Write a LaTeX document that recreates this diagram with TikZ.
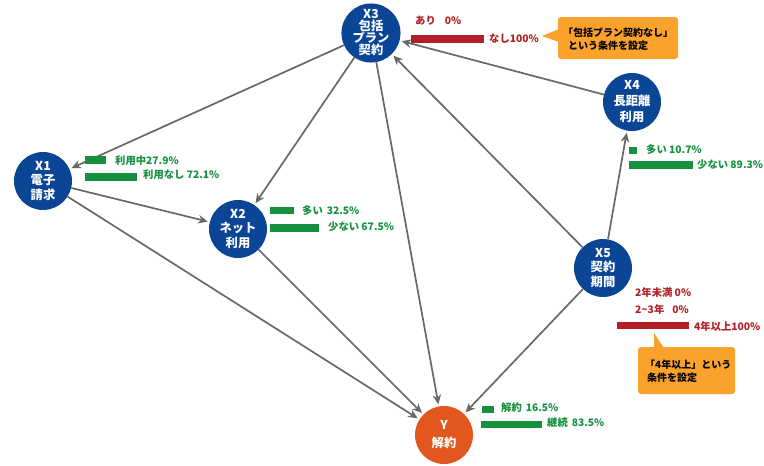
\documentclass[tikz,border=0pt]{standalone}
\usepackage{fontspec}
\setmainfont{Noto Sans CJK JP}
\usetikzlibrary{arrows.meta}
\definecolor{nblue}{HTML}{0B4596}
\definecolor{yorange}{HTML}{E2571E}
\definecolor{ggreen}{HTML}{15903F}
\definecolor{rred}{HTML}{B21F24}
\definecolor{corange}{HTML}{FAA22B}
\definecolor{agray}{HTML}{686868}
\begin{document}
\begin{tikzpicture}[x=1pt,y=-1pt,
  circ/.style={circle,fill=nblue,minimum size=58pt,inner sep=0pt,text=white,align=center},
  conn/.style={draw=agray,line width=1.7pt,-{Stealth[length=9.5pt,width=8.5pt]},shorten >=2pt},
  lbl/.style={anchor=west,inner sep=0pt,font=\bfseries\fontsize{10.3}{12}\selectfont},
  gl/.style={lbl,text=ggreen},
  rl/.style={lbl,text=rred},
  ctext/.style={anchor=west,inner sep=0pt,align=left,text=black,font=\bfseries\fontsize{10}{12.5}\selectfont}]
\useasboundingbox (0,0) rectangle (764,466);

% nodes
\node[circ,font=\bfseries\fontsize{12.3}{12}\selectfont] (x3) at (371,33) {X3\\包括\\プラン\\契約};
\node[circ,font=\bfseries\fontsize{12.3}{14.5}\selectfont] (x1) at (43,181) {X1\\電子\\請求};
\node[circ,font=\bfseries\fontsize{12.3}{14.5}\selectfont] (x2) at (238,229) {X2\\ネット\\利用};
\node[circ,font=\bfseries\fontsize{12.3}{16}\selectfont] (x4) at (632,102) {X4\\長距離\\利用};
\node[circ,font=\bfseries\fontsize{12.3}{14.5}\selectfont] (x5) at (603,268) {X5\\契約\\期間};
\node[circ,fill=yorange,font=\bfseries\fontsize{12.3}{18}\selectfont] (y) at (444,435) {Y\\解約};

% connectors
\draw[conn] (x3) -- (x1);
\draw[conn] (x1) -- (x2);
\draw[conn] (x3) -- (x2);
\draw[conn] (x1) -- (y);
\draw[conn] (x2) -- (y);
\draw[conn] (x3) -- (y);
\draw[conn] (x4) -- (x3);
\draw[conn] (x5) -- (x3);
\draw[conn] (x5) -- (x4);
\draw[conn] (x5) -- (y);

% X3 bars
\node[rl] (x3a) at (415,21) {あり\hspace{9pt}0\%};
\fill[rred] (411,35) rectangle (484,43);
\node[rl] (x3b) at (489,39) {なし100\%};
% callout 1
\fill[corange,rounded corners=3pt] (558,17) rectangle (678,59);
\fill[corange] (559,29) -- (542,36) -- (559,42) -- cycle;
\node[ctext] (c1) at (563,39) {「包括プラン契約なし」\\\hspace{5pt}という条件を設定};

% X1 bars
\fill[ggreen] (85,156) rectangle (106,164);
\node[gl] (x1a) at (115,161) {利用中27.9\%};
\fill[ggreen] (85,173) rectangle (137,181);
\node[gl] (x1b) at (143,175) {利用なし 72.1\%};

% X2 bars
\fill[ggreen] (270,207) rectangle (294,214);
\node[gl] (x2a) at (302,211) {多い\hspace{4pt}32.5\%};
\fill[ggreen] (270,224) rectangle (319,232);
\node[gl] (x2b) at (328,227) {少ない 67.5\%};

% X4 bars
\fill[ggreen] (629,147) rectangle (637,154);
\node[gl] (x4a) at (646,150) {多い 10.7\%};
\fill[ggreen] (629,161) rectangle (693,169);
\node[gl] (x4b) at (697,165) {少ない 89.3\%};

% X5 bars
\node[rl] (x5a) at (635,293) {2年未満 0\%};
\node[rl] (x5b) at (635,310) {2\string~3年\hspace{8pt}0\%};
\fill[rred] (617,322) rectangle (689,329);
\node[rl] (x5c) at (694,327) {4年以上100\%};
% callout 2
\fill[corange,rounded corners=3pt] (638,347) rectangle (735,394);
\fill[corange] (654,348) -- (654,333) -- (664,348) -- cycle;
\node[ctext] (c2) at (645,371) {「4年以上」という\\\hspace{2pt}条件を設定};

% Y bars
\fill[ggreen] (482,406) rectangle (494,413);
\node[gl] (ya) at (501,408) {解約\hspace{4pt}16.5\%};
\fill[ggreen] (481,421) rectangle (542,428);
\node[gl] (yb) at (547,423) {継続\hspace{4pt}83.5\%};
\end{tikzpicture}
\end{document}
